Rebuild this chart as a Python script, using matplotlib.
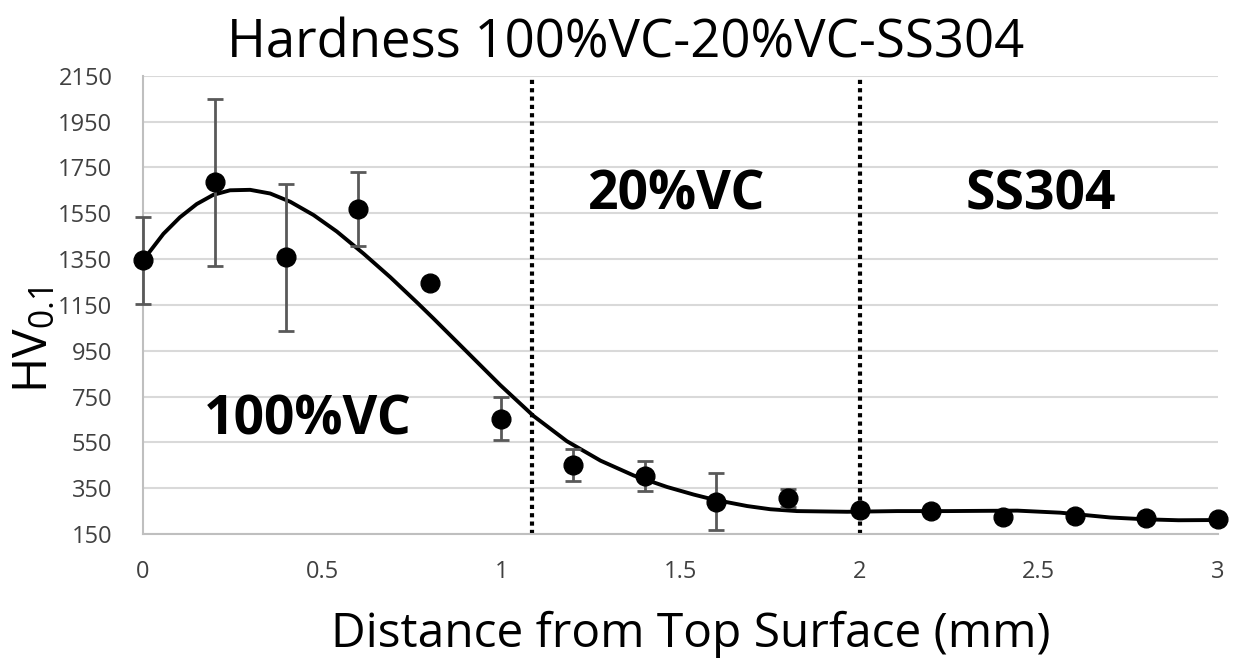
import matplotlib.pyplot as plt

plt.rcParams["font.family"] = ["Open Sans", "DejaVu Sans"]

# measured hardness points
distance = [0.0, 0.2, 0.4, 0.6, 0.8, 1.0, 1.2, 1.4, 1.6, 1.8, 2.0, 2.2, 2.4, 2.6, 2.8, 3.0]
hardness = [1344, 1685, 1358, 1569, 1245, 654, 451, 403, 291, 306, 255, 250, 223, 228, 218, 214]
hardness_err = [190, 365, 320, 160, 0, 92, 68, 65, 125, 39, 15, 0, 0, 0, 0, 0]

# trend line
trend_x = [0.0, 0.03, 0.057, 0.103, 0.15, 0.196, 0.243, 0.299, 0.355, 0.411, 0.476,
           0.541, 0.616, 0.69, 0.765, 0.811, 0.904, 0.997, 1.09, 1.183, 1.277, 1.37,
           1.463, 1.537, 1.593, 1.686, 1.751, 1.825, 1.965, 2.105, 2.245, 2.44, 2.56,
           2.7, 2.8, 2.89, 3.0]
trend_y = [1344, 1405, 1460, 1532, 1590, 1630, 1650, 1652, 1636, 1600, 1542,
           1470, 1373, 1271, 1160, 1090, 945, 800, 665, 555, 470, 405,
           355, 322, 300, 272, 258, 250, 247, 250, 250, 252, 243,
           222, 214, 210, 211]

# layer boundaries and labels
boundaries = [1.085, 2.0]
region_labels = ["100%VC", "20%VC", "SS304"]
region_pos = [(0.46, 647), (1.49, 1627), (2.505, 1627)]

yticks = list(range(150, 2151, 200))
xticks = [0, 0.5, 1, 1.5, 2, 2.5, 3]
xticklabels = ["0", "0.5", "1", "1.5", "2", "2.5", "3"]

fig = plt.figure(figsize=(12.38, 6.66), dpi=100)
ax = fig.add_axes([0.1155, 0.1982, 0.8683, 0.6881])

ax.set_xlim(0, 3)
ax.set_ylim(150, 2150)
ax.set_yticks(yticks)
ax.set_xticks(xticks)
ax.set_xticklabels(xticklabels)
ax.grid(axis="y", color="#d9d9d9", linewidth=1.5)
ax.set_axisbelow(True)
for side in ("top", "right"):
    ax.spines[side].set_visible(False)
for side in ("left", "bottom"):
    ax.spines[side].set_color("#bfbfbf")
    ax.spines[side].set_linewidth(1.5)
ax.tick_params(length=0, labelsize=17, colors="#404040")
ax.tick_params(axis="x", pad=19)
ax.tick_params(axis="y", pad=22)

for b in boundaries:
    ax.axvline(b, color="black", linestyle=(0, (1, 1)), linewidth=3, zorder=2)

ax.plot(trend_x, trend_y, color="black", linewidth=2.8, zorder=3, clip_on=False)
ax.errorbar(distance, hardness, yerr=hardness_err, fmt="o", color="black",
            markersize=13.5, ecolor="#595959", elinewidth=2, capsize=6,
            capthick=2, zorder=4, clip_on=False)

for label, (px, py) in zip(region_labels, region_pos):
    ax.text(px, py, label, fontsize=38.5, fontweight="bold", ha="center",
            va="center", zorder=5)

fig.text(0.5057, 1 - 57 / 666, "Hardness 100%VC-20%VC-SS304", fontsize=38,
         ha="center", va="baseline")
ax.set_xlabel("Distance from Top Surface (mm)", fontsize=34.5)
ax.xaxis.set_label_coords(0.51, -0.168)
ax.set_ylabel(r"HV$_{\mathregular{0.1}}$", fontsize=34.5)
ax.yaxis.set_label_coords(-0.079, 0.423)

fig.savefig("out.png", dpi=100)
